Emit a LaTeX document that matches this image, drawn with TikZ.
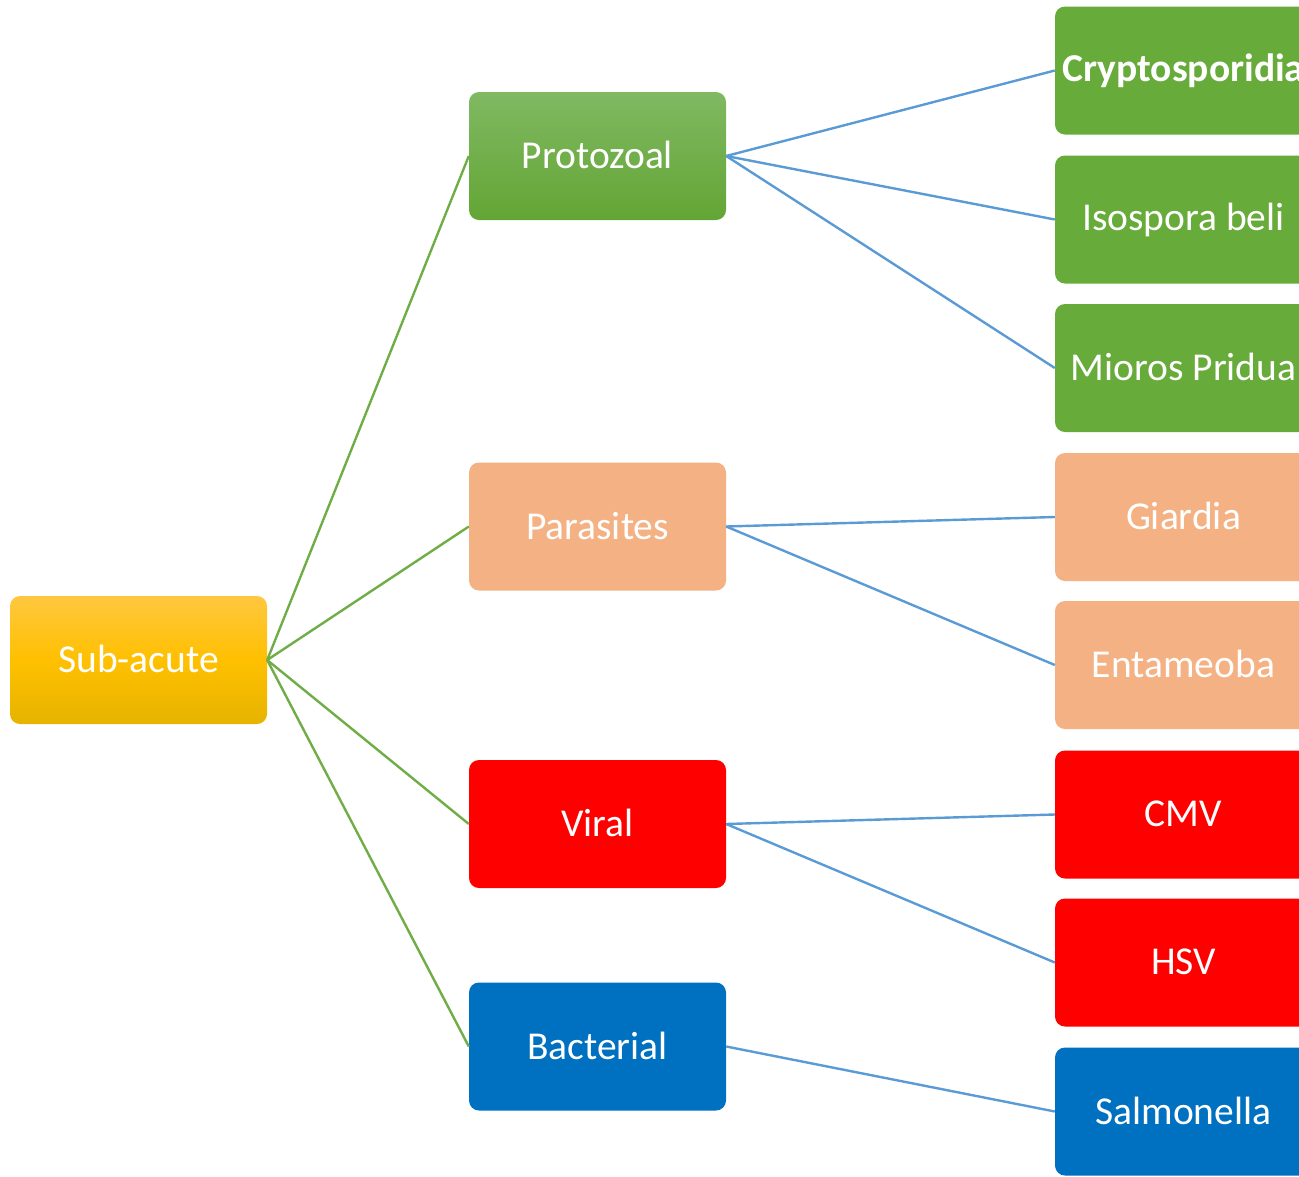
\documentclass[tikz,border=0pt]{standalone}
\usepackage{fontspec}
\setmainfont{Carlito}
\definecolor{gline}{HTML}{70AD47}
\definecolor{bline}{HTML}{5B9BD5}
\definecolor{grn}{HTML}{67AB3A}
\definecolor{grntop}{HTML}{80B962}
\definecolor{grnbot}{HTML}{63A535}
\definecolor{ylwtop}{HTML}{FFC740}
\definecolor{ylwmid}{HTML}{FFC000}
\definecolor{ylwbot}{HTML}{E6B300}
\definecolor{peach}{HTML}{F4B183}
\definecolor{redb}{HTML}{FF0000}
\definecolor{blueb}{HTML}{0070C0}
\begin{document}
\begin{tikzpicture}[x=1pt,y=-1pt,
  box/.style={rounded corners=10pt, minimum width=257pt, minimum height=128pt, inner sep=0pt,
    text=white, font=\fontsize{39.5}{44}\selectfont, draw=none},
  gline/.style={draw=gline, line width=2.4pt},
  bline/.style={draw=bline, line width=2.4pt}]
\useasboundingbox (0,0) rectangle (1299,1176);
\clip (0,0) rectangle (1299,1176);
% root
\node[box, top color=ylwtop, bottom color=ylwbot, middle color=ylwmid] (root) at (138.5,660) {\raisebox{2pt}{Sub-acute}};
% middle column
\node[box, top color=grntop, bottom color=grnbot] (proto) at (597.5,156) {\raisebox{2pt}{Protozoal}};
\node[box, fill=peach] (para) at (597.5,526.5) {\raisebox{2pt}{Parasites}};
\node[box, fill=redb] (viral) at (597.5,824) {\raisebox{2pt}{Viral}};
\node[box, fill=blueb] (bact) at (597.5,1046.5) {\raisebox{2pt}{Bacterial}};
% right column
\node[box, fill=grn] (crypto) at (1183.5,70.5) {\raisebox{2pt}{\textbf{Cryptosporidia}}};
\node[box, fill=grn] (iso) at (1183.5,219.5) {\raisebox{2pt}{Isospora beli}};
\node[box, fill=grn] (mioros) at (1183.5,368) {\raisebox{2pt}{Mioros Pridua}};
\node[box, fill=peach] (giardia) at (1183.5,517) {\raisebox{2pt}{Giardia}};
\node[box, fill=peach] (entam) at (1183.5,665) {\raisebox{2pt}{Entameoba}};
\node[box, fill=redb] (cmv) at (1183.5,814.5) {\raisebox{2pt}{CMV}};
\node[box, fill=redb] (hsv) at (1183.5,962.5) {\raisebox{2pt}{HSV}};
\node[box, fill=blueb] (salm) at (1183.5,1111.5) {\raisebox{2pt}{Salmonella}};
% connectors
\foreach \n in {proto,para,viral,bact}
  \draw[gline] (root.east) -- (\n.west);
\draw[bline] (proto.east) -- (crypto.west);
\draw[bline] (proto.east) -- (iso.west);
\draw[bline] (proto.east) -- (mioros.west);
\draw[bline] (para.east) -- (giardia.west);
\draw[bline] (para.east) -- (entam.west);
\draw[bline] (viral.east) -- (cmv.west);
\draw[bline] (viral.east) -- (hsv.west);
\draw[bline] (bact.east) -- (salm.west);
\end{tikzpicture}
\end{document}
